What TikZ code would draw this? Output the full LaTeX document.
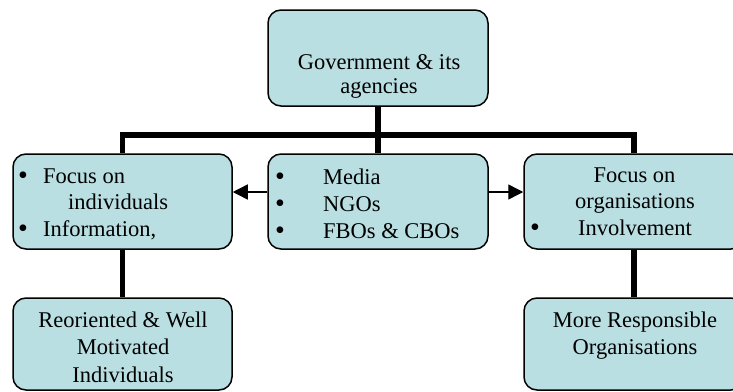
\documentclass[tikz,border=0pt]{standalone}
\usepackage{fontspec}
\setmainfont{Liberation Serif}
\usetikzlibrary{arrows.meta}
\definecolor{boxfill}{RGB}{186,223,227}
\tikzset{
  box/.style={draw=black, line width=1.5pt, fill=boxfill, rounded corners=13pt, inner sep=0pt},
  conn/.style={line width=5.5pt, line join=miter},
  arr/.style={line width=1.4pt, -{Triangle[length=15pt,width=15pt]}},
  txt/.style={inner sep=0pt, anchor=base, font=\fontsize{22.5}{25}\selectfont},
  txtl/.style={txt, anchor=base west},
  bul/.style={inner sep=0pt, anchor=base, font=\fontsize{28}{28}\selectfont, yshift=-1.5pt}
}
\begin{document}
\begin{tikzpicture}[x=1pt,y=-1pt]
\useasboundingbox (0,0) rectangle (733,391);
% boxes
\node[box, minimum width=220pt, minimum height=96pt] (T) at (378,58) {};
\node[box, minimum width=219pt, minimum height=95pt] (L) at (122.5,201.5) {};
\node[box, minimum width=220pt, minimum height=95pt] (M) at (378,201.5) {};
\node[box, minimum width=220pt, minimum height=95pt] (R) at (634,201.5) {};
\node[box, minimum width=219pt, minimum height=92pt] (BL) at (122.5,344) {};
\node[box, minimum width=220pt, minimum height=92pt] (BR) at (634,344) {};
% connectors
\coordinate (bus) at (378,135);
\coordinate (ay) at (0,192);
\draw[conn] (L.north) |- (bus) -| (R.north);
\draw[conn] (T.south) -- (M.north);
\draw[conn] (L.south) -- (BL.north);
\draw[conn] (R.south) -- (BR.north);
\draw[arr] (M.west |- ay) -- (L.east |- ay);
\draw[arr] (M.east |- ay) -- (R.west |- ay);
% top text
\node[txt] (t1) at (379,69) {Government \& its};
\node[txt] (t2) at (379,93) {agencies};
% left text
\node[bul] (lb1) at (23,183) {•};
\node[txtl] (l1) at (43,183) {Focus on};
\node[txtl] (l2) at (68,209) {individuals};
\node[bul] (lb2) at (23,236) {•};
\node[txtl] (l3) at (43,236) {Information,};
% middle text
\node[bul] (mb1) at (280,184) {•};
\node[txtl] (m1) at (323,184) {Media};
\node[bul] (mb2) at (280,211) {•};
\node[txtl] (m2) at (323,211) {NGOs};
\node[bul] (mb3) at (280,238) {•};
\node[txtl] (m3) at (323,238) {FBOs \& CBOs};
% right text
\node[txt] (r1) at (634.5,182) {Focus on};
\node[txt] (r2) at (635,208) {organisations};
\node[bul] (rb1) at (535,235) {•};
\node[txt] (r3) at (635,235) {Involvement};
% bottom left text
\node[txt] (bl1) at (123,327) {Reoriented \& Well};
\node[txt] (bl2) at (123,354) {Motivated};
\node[txt] (bl3) at (123,382) {Individuals};
% bottom right text
\node[txt] (br1) at (635,327) {More Responsible};
\node[txt] (br2) at (635,354) {Organisations};
\end{tikzpicture}
\end{document}
